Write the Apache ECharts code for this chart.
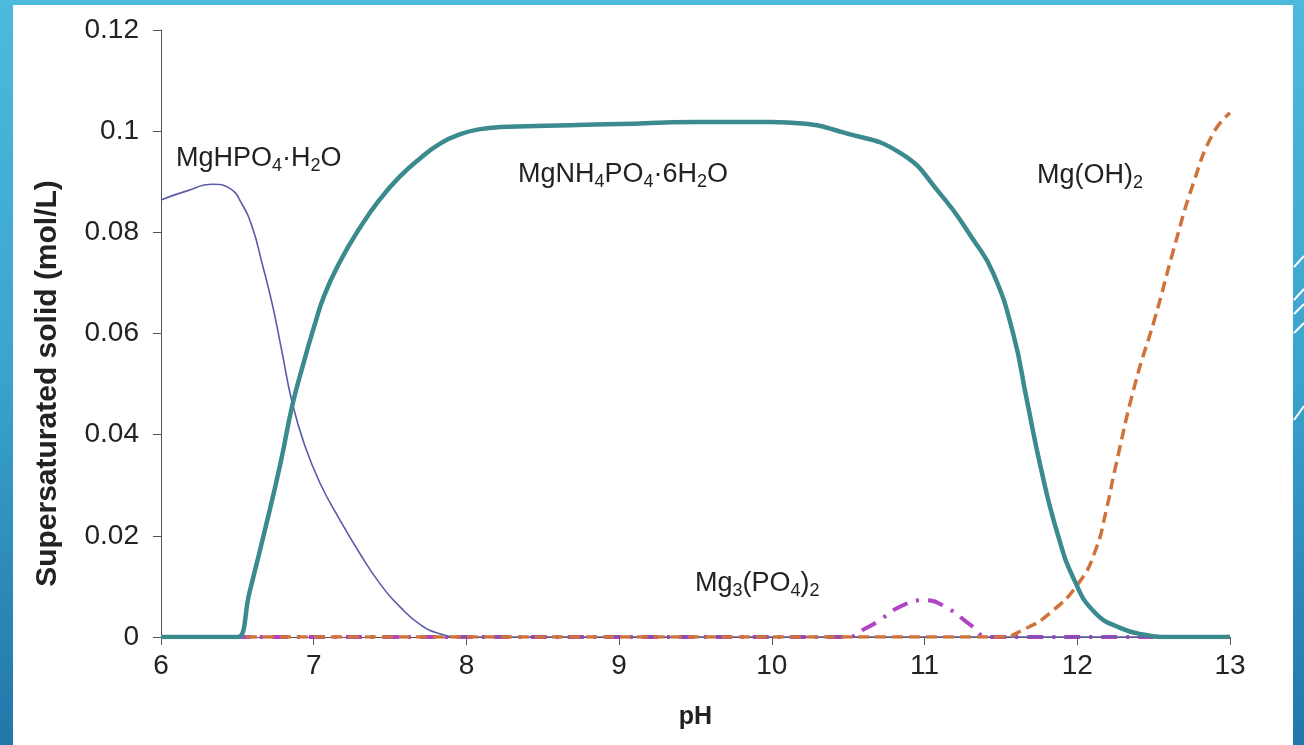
<!DOCTYPE html>
<html><head><meta charset="utf-8">
<script src="https://cdn.jsdelivr.net/npm/echarts@6/dist/echarts.min.js"></script>
<style>html,body{margin:0;padding:0;background:#fff}#c{width:1304px;height:745px}</style>
</head><body><div id="c"></div>
<script>
// ---- data ----
const xTicks = [6, 7, 8, 9, 10, 11, 12, 13];
const yTicks = [0, 0.02, 0.04, 0.06, 0.08, 0.1, 0.12];

const phHPO4  = [6.0, 6.16, 6.34, 6.45, 6.53, 6.60, 6.66, 6.73, 6.79, 6.86, 6.94, 7.04, 7.17, 7.30, 7.43, 7.57, 7.70, 7.83, 7.96, 8.5, 13.0];
const valHPO4 = [0.0864, 0.0881, 0.0895, 0.0887, 0.0856, 0.0808, 0.0741, 0.0656, 0.0567, 0.0462, 0.0380, 0.0305, 0.0232, 0.0166, 0.0107, 0.0058, 0.0024, 0.0006, 0.0, 0.0, 0.0];

const phStruv  = [6.0, 6.45, 6.504, 6.58, 6.68, 6.78, 6.86, 6.93, 7.0, 7.07, 7.17, 7.30, 7.43, 7.56, 7.70, 7.83, 7.96, 8.09, 8.22, 9.0, 9.5, 10.0, 10.2, 10.46, 10.84, 11.1, 11.32, 11.45, 11.58, 11.67, 11.76, 11.87, 11.98, 12.11, 12.28, 12.45, 12.6, 13.0];
const valStruv = [0.0, 0.0, 0.0, 0.0089, 0.0211, 0.0340, 0.0458, 0.0538, 0.0611, 0.0676, 0.0741, 0.0808, 0.0864, 0.0909, 0.0947, 0.0976, 0.0994, 0.1004, 0.1008, 0.1014, 0.1018, 0.1018, 0.1015, 0.0998, 0.0957, 0.0877, 0.0785, 0.0719, 0.0600, 0.0468, 0.0336, 0.0205, 0.0113, 0.0050, 0.0018, 0.0004, 0.0, 0.0];

const phOH  = [6.0, 11.5, 11.65, 11.82, 12.01, 12.12, 12.19, 12.25, 12.38, 12.51, 12.63, 12.76, 12.89, 13.0];
const valOH = [0.0, 0.0, 0.0015, 0.0047, 0.0107, 0.0172, 0.0251, 0.0336, 0.0502, 0.0632, 0.0765, 0.0897, 0.0996, 0.1036];

const phMg3  = [6.0, 10.5, 10.6, 10.69, 10.84, 11.0, 11.15, 11.3, 11.42, 13.0];
const valMg3 = [0.0, 0.0, 0.0015, 0.003, 0.006, 0.0073, 0.0057, 0.0024, 0.0, 0.0];

const seriesNames = ['MgHPO4·H2O', 'MgNH4PO4·6H2O', 'Mg(OH)2', 'Mg3(PO4)2'];
const xName = 'pH';
const yName = 'Supersaturated solid (mol/L)';

// ---- chart ----
const FONT = "'Liberation Sans', Arial, sans-serif";
const pairs = (xs, ys) => xs.map((x, i) => [x, ys[i]]);
const chart = echarts.init(document.getElementById('c'), null, {renderer: 'canvas'});

const sub = {fontSize: 18, verticalAlign: 'bottom', lineHeight: 33, fontFamily: FONT};
const main = {fontSize: 27, fontFamily: FONT};
function label(text, left, top) {
  return {type: 'text', left: left, top: top, z: 50,
    style: {text: text, fill: '#222', font: '27px ' + FONT, rich: {a: main, s: sub}}};
}

const option = {
  animation: false,
  grid: {left: 161, right: 74, top: 30, bottom: 108, containLabel: false},
  xAxis: {
    type: 'value', min: 6, max: 13, interval: 1,
    name: xName, nameLocation: 'middle', nameGap: 68,
    nameTextStyle: {fontFamily: FONT, fontWeight: 'bold', fontSize: 25, color: '#222'},
    axisLine: {show: true, lineStyle: {color: '#555', width: 1}},
    axisTick: {show: true, length: 8, lineStyle: {color: '#555'}},
    axisLabel: {fontFamily: FONT, fontSize: 28, color: '#222', margin: 15,
      formatter: v => xTicks.includes(v) ? String(v) : ''},
    splitLine: {show: false}
  },
  yAxis: {
    type: 'value', min: 0, max: 0.12, interval: 0.02,
    name: yName, nameLocation: 'middle', nameGap: 98, nameRotate: 90,
    nameTextStyle: {fontFamily: FONT, fontWeight: 'bold', fontSize: 30, color: '#222', padding: [0, 100, 0, 0]},
    axisLine: {show: true, lineStyle: {color: '#555', width: 1}},
    axisTick: {show: true, length: 8, lineStyle: {color: '#555'}},
    axisLabel: {fontFamily: FONT, fontSize: 28, color: '#222', margin: 22,
      formatter: v => { const t = yTicks.find(k => Math.abs(k - v) < 1e-9); return t === undefined ? '' : String(t); }},
    splitLine: {show: false}
  },
  series: [
    {name: seriesNames[3], type: 'line', data: pairs(phMg3, valMg3), showSymbol: false, smooth: 0.5, z: 3,
      lineStyle: {color: '#b044c4', width: 4, type: [16, 9, 3, 9]}},
    {name: seriesNames[0], type: 'line', data: pairs(phHPO4, valHPO4), showSymbol: false, smooth: 0.5, z: 4,
      lineStyle: {color: '#5a5ca8', width: 1.6}},
    {name: seriesNames[2], type: 'line', data: pairs(phOH, valOH), showSymbol: false, smooth: 0.5, z: 5,
      lineStyle: {color: '#d0733a', width: 3.5, type: [11, 6]}},
    {name: seriesNames[1], type: 'line', data: pairs(phStruv, valStruv), showSymbol: false, smooth: 0.5, z: 6,
      lineStyle: {color: '#3a8a8e', width: 4.5}}
  ],
  graphic: [
    {type: 'rect', z: -100, shape: {x: 0, y: 0, width: 1304, height: 745},
      style: {fill: new echarts.graphic.LinearGradient(0, 0, 0, 1, [
        {offset: 0, color: '#4dbadc'}, {offset: 0.5, color: '#3aa3cf'}, {offset: 1, color: '#2276aa'}])}},
    {type: 'rect', z: -99, shape: {x: 13, y: 5, width: 1280, height: 740}, style: {fill: '#ffffff'}},
    {type: 'line', z: -98, shape: {x1: 1294, y1: 267, x2: 1304, y2: 256}, style: {stroke: '#fff', lineWidth: 2}},
    {type: 'line', z: -98, shape: {x1: 1294, y1: 300, x2: 1304, y2: 289}, style: {stroke: '#fff', lineWidth: 2}},
    {type: 'line', z: -98, shape: {x1: 1294, y1: 314, x2: 1304, y2: 304}, style: {stroke: '#fff', lineWidth: 2}},
    {type: 'line', z: -98, shape: {x1: 1294, y1: 333, x2: 1304, y2: 323}, style: {stroke: '#fff', lineWidth: 2}},
    {type: 'line', z: -98, shape: {x1: 1294, y1: 420, x2: 1304, y2: 406}, style: {stroke: '#fff', lineWidth: 2}},
    label('{a|MgHPO}{s|4}{a|·H}{s|2}{a|O}', 176, 145),
    label('{a|MgNH}{s|4}{a|PO}{s|4}{a|·6H}{s|2}{a|O}', 518, 161),
    label('{a|Mg(OH)}{s|2}', 1037, 162),
    label('{a|Mg}{s|3}{a|(PO}{s|4}{a|)}{s|2}', 695, 570)
  ]
};
chart.setOption(option);
</script>
</body></html>
